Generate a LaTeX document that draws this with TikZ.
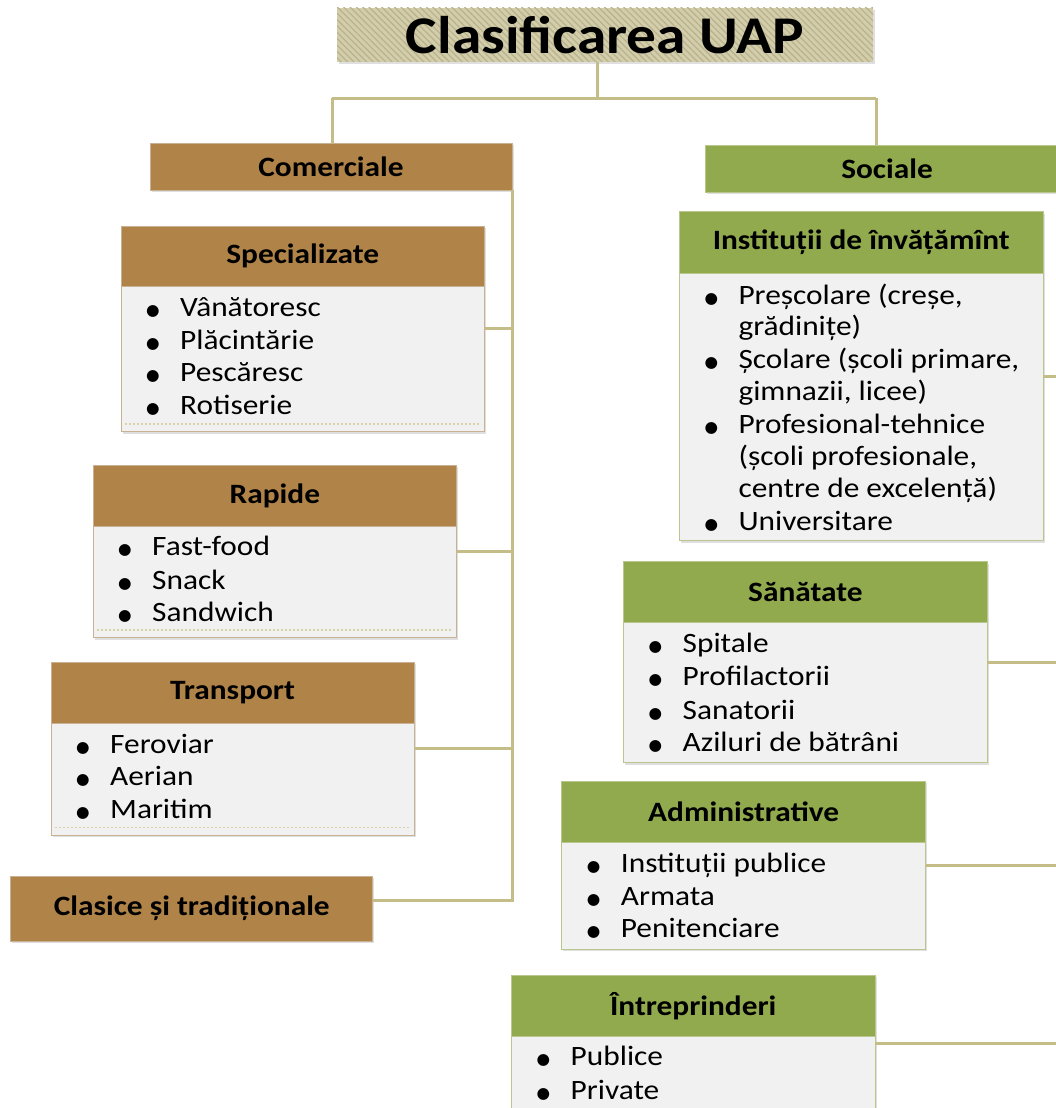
\documentclass[tikz,border=0pt]{standalone}
\usepackage{fontspec}
\setmainfont{Carlito}[FakeStretch=1.12]
\newfontfamily\bulfont{DejaVu Sans}
\usetikzlibrary{shadows,patterns.meta}
\definecolor{brownh}{HTML}{B08348}
\definecolor{greenh}{HTML}{92AA4E}
\definecolor{bodyf}{HTML}{F1F1F1}
\definecolor{brownb}{HTML}{C9B193}
\definecolor{greenb}{HTML}{B9C78E}
\definecolor{connc}{HTML}{C4BD87}
\definecolor{titlef}{HTML}{D2CDAC}
\definecolor{titleh}{HTML}{BAB389}
\definecolor{dotc}{HTML}{D9D2A4}
\newcommand\bul{\makebox[34pt][l]{\raisebox{1pt}{\bulfont\fontsize{15.5}{15}\selectfont ●}}}
\begin{document}
\begin{tikzpicture}[x=1pt,y=-1pt,
  conn/.style={draw=connc,line width=3pt},
  shad/.style={drop shadow={shadow xshift=1.5pt,shadow yshift=-2pt,opacity=.25}},
  card/.style={draw=#1,line width=1pt,fill=bodyf,anchor=north west,inner sep=0pt,outer sep=0pt,shad},
  hdr/.style={anchor=north west,inner sep=0pt,outer sep=0pt,line width=1pt,font=\fontsize{28}{33}\selectfont\bfseries},
  hdrB/.style={hdr,fill=brownh,draw=brownb},
  hdrG/.style={hdr,fill=greenh,draw=greenb},
  itm/.style={anchor=base west,inner sep=0pt,font=\fontsize{28}{33}\selectfont},
  dotl/.style={draw=dotc,line width=1.5pt,dash pattern=on 2pt off 2pt}]
\useasboundingbox (0,0) rectangle (1056,1108);

% title
\node[anchor=north west,inner sep=0pt,outer sep=0pt,minimum width=536pt,minimum height=54pt,
  preaction={fill=titlef,shad},pattern={Lines[angle=-45,distance=4.5pt,line width=1.2pt]},pattern color=titleh,
  font=\fontsize{53}{60}\selectfont\bfseries] (title) at (337,8) {Clasificarea UAP};

% level 1
\node[hdrB,shad,minimum width=362pt,minimum height=47pt] (com) at (150,143) {Comerciale};
\node[hdrG,shad,minimum width=364pt,minimum height=47pt] (soc) at (705,145) {Sociale};

% Specializate
\node[card=brownb,minimum width=363.5pt,minimum height=205.7pt] (spec) at (121,226) {};
\node[hdrB,minimum width=363.5pt,minimum height=60.7pt] (spech) at (121,226) {Specializate};
\draw[dotl] ([xshift=4pt,yshift=7.5pt]spec.south west) -- ([xshift=-4pt,yshift=7.5pt]spec.south east);
\node[itm] (s1) at (146,316) {\bul Vânătoresc};
\node[itm] (s2) at (146,349) {\bul Plăcintărie};
\node[itm] (s3) at (146,381.5) {\bul Pescăresc};
\node[itm] (s4) at (146,414) {\bul Rotiserie};

% Rapide
\node[card=brownb,minimum width=363.7pt,minimum height=172.7pt] (rap) at (93,465) {};
\node[hdrB,minimum width=363.7pt,minimum height=61.7pt] (raph) at (93,465) {Rapide};
\draw[dotl] ([xshift=4pt,yshift=7.5pt]rap.south west) -- ([xshift=-4pt,yshift=7.5pt]rap.south east);
\node[itm] (r1) at (118,555.5) {\bul Fast-food};
\node[itm] (r2) at (118,589) {\bul Snack};
\node[itm] (r3) at (118,621) {\bul Sandwich};

% Transport
\node[card=brownb,minimum width=363pt,minimum height=173pt] (tra) at (51,662) {};
\node[hdrB,minimum width=363pt,minimum height=61pt] (trah) at (51,662) {Transport};
\draw[dotl] ([xshift=4pt,yshift=7.5pt]tra.south west) -- ([xshift=-4pt,yshift=7.5pt]tra.south east);
\node[itm] (t1) at (76,753) {\bul Feroviar};
\node[itm] (t2) at (76,785.5) {\bul Aerian};
\node[itm] (t3) at (76,818) {\bul Maritim};

% Clasice
\node[hdrB,shad,minimum width=362pt,minimum height=65pt] (clas) at (10.7,876) {Clasice și tradiționale};

% Institutii
\node[card=greenb,minimum width=363.7pt,minimum height=329pt] (inst) at (679.3,211.7) {};
\node[hdrG,minimum width=363.7pt,minimum height=61.6pt] (insth) at (679.3,211.7) {Instituții de învățămînt};
\node[itm] (i1) at (704.3,304) {\bul Preșcolare (creșe,};
\node[itm] (i1b) at (738.3,335.7) {grădinițe)};
\node[itm] (i2) at (704.3,368) {\bul Școlare (școli primare,};
\node[itm] (i2b) at (738.3,400.7) {gimnazii, licee)};
\node[itm] (i3) at (704.3,433) {\bul Profesional-tehnice};
\node[itm] (i3b) at (738.3,465.7) {(școli profesionale,};
\node[itm] (i3c) at (738.3,497) {centre de excelență)};
\node[itm] (i4) at (704.3,530.7) {\bul Universitare};

% Sanatate
\node[card=greenb,minimum width=363.8pt,minimum height=201pt] (san) at (623.5,561.7) {};
\node[hdrG,minimum width=363.8pt,minimum height=61pt] (sanh) at (623.5,561.7) {Sănătate};
\node[itm] (h1) at (648.5,652) {\bul Spitale};
\node[itm] (h2) at (648.5,685.5) {\bul Profilactorii};
\node[itm] (h3) at (648.5,719) {\bul Sanatorii};
\node[itm] (h4) at (648.5,751.5) {\bul Aziluri de bătrâni};

% Administrative
\node[card=greenb,minimum width=364pt,minimum height=168.3pt] (adm) at (561.7,781) {};
\node[hdrG,minimum width=364pt,minimum height=61.3pt] (admh) at (561.7,781) {Administrative};
\node[itm] (a1) at (586.7,872) {\bul Instituții publice};
\node[itm] (a2) at (586.7,905) {\bul Armata};
\node[itm] (a3) at (586.7,937) {\bul Penitenciare};

% Intreprinderi
\node[card=greenb,minimum width=363.5pt,minimum height=136pt] (intr) at (511.5,975) {};
\node[hdrG,minimum width=363.5pt,minimum height=61.7pt] (intrh) at (511.5,975) {Întreprinderi};
\node[itm] (p1) at (536.5,1065.5) {\bul Publice};
\node[itm] (p2) at (536.5,1099) {\bul Private};

% connectors
\coordinate (tj) at (597,98);
\coordinate (jl) at (332,98);
\coordinate (jr) at (876,98);
\coordinate (ct) at (512,900);
\coordinate (st) at (1062,1111);
\draw[conn] (title.south -| tj) -- (tj);
\draw[conn] (jl) -- (jr);
\draw[conn] (jl) -- (jl |- com.north);
\draw[conn] (jr) -- (jr |- soc.north);
\draw[conn] (com.south east) -- (ct) -- (ct -| clas.east);
\draw[conn] (spec.east) -- (spec.east -| ct);
\draw[conn] (rap.east) -- (rap.east -| ct);
\draw[conn] (tra.east) -- (tra.east -| ct);
\draw[conn] (soc.south -| st) -- (st);
\draw[conn] (inst.east) -- (inst.east -| st);
\draw[conn] (san.east) -- (san.east -| st);
\draw[conn] (adm.east) -- (adm.east -| st);
\draw[conn] (intr.east) -- (intr.east -| st);
\end{tikzpicture}
\end{document}
